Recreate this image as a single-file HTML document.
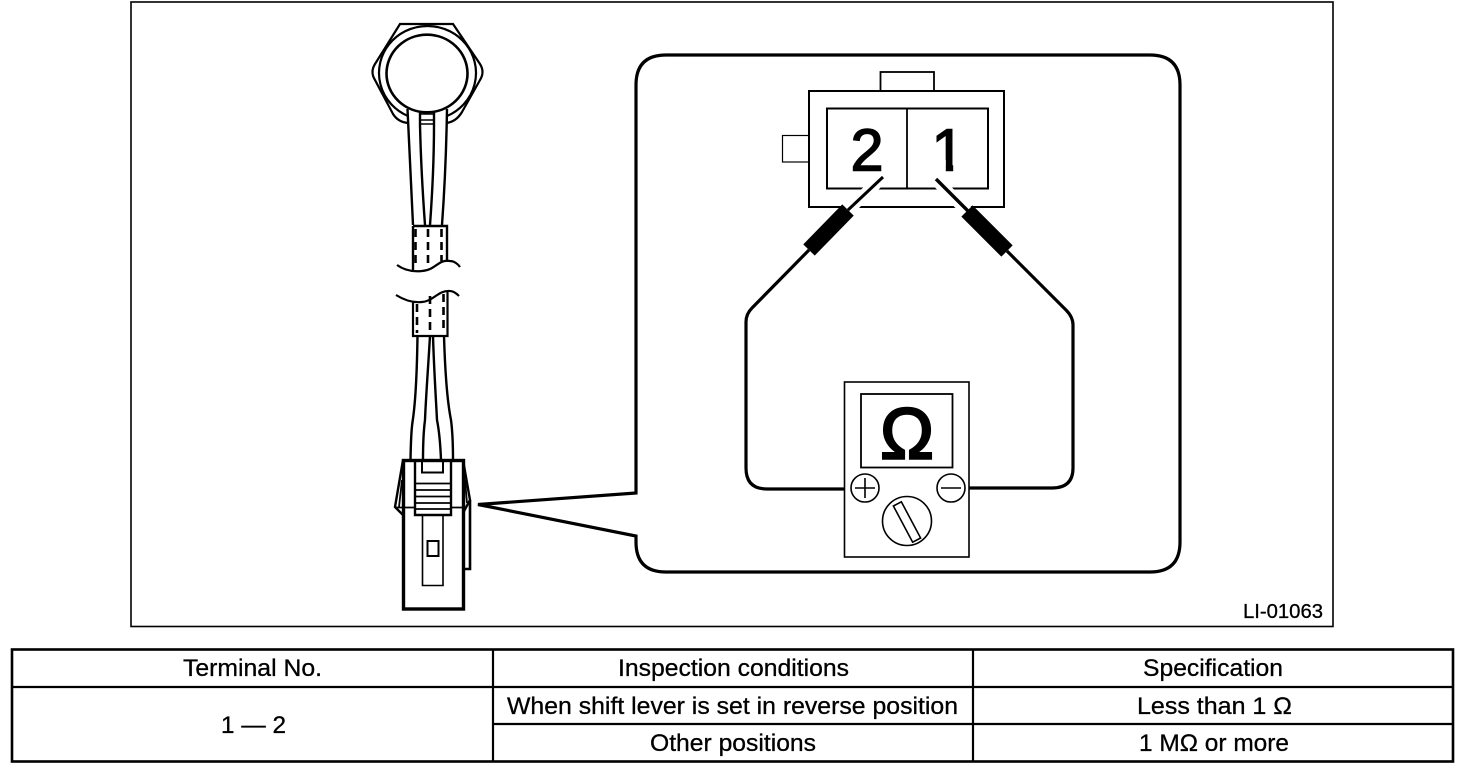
<!DOCTYPE html>
<html><head><meta charset="utf-8"><style>
html,body{margin:0;padding:0;background:#fff}
svg{display:block}
text{font-family:"Liberation Sans",sans-serif;fill:#000}
.t text{stroke:#000;stroke-width:.3}
</style></head><body>
<svg width="1472" height="778" viewBox="0 0 1472 778" xmlns="http://www.w3.org/2000/svg">
<rect x="0" y="0" width="1472" height="778" fill="#fff"/>
<rect x="131" y="2" width="1202" height="624.5" fill="none" stroke="#000" stroke-width="1.6"/>

<!-- callout -->
<path d="M636 493 V85 Q636 55 666 55 H1150 Q1180 55 1180 85 V542 Q1180 572 1150 572 H666 Q636 572 636 542 V536 L478 504.5 Z" fill="#fff" stroke="#000" stroke-width="3.2"/>

<!-- switch head -->
<g fill="none" stroke="#000" stroke-width="2.2">
<path d="M408 123 Q398 122 393 114 L375 80 Q370 72 375 64 L400 24 H453 L480 64 Q485 72 480 80 L462 112 Q456 122 446 123"/>
<path d="M408 116 A48.5 47 0 1 1 447 116" stroke-width="2.2"/>
<ellipse cx="427" cy="73.5" rx="40.5" ry="38.8" stroke-width="2.6"/>
<path d="M407.5 109 Q409 140 413 225 M420 112 V125 Q421 170 425 225 M434 112 V125 Q434 170 430 225 M447 109 Q446 170 442 225" stroke-width="2.4"/>
<path d="M420 114 H434 M420 120 H434 M420 124 H434" stroke-width="1.4"/>
<!-- sleeves -->
<path d="M413 226 H447 V262 M413 226 V271" stroke-width="2.4"/>
<path d="M413 301 V336 H447.5 V292" stroke-width="2.2"/>
<path d="M397 265 C404 270 413 272 422 271 C436 270 438 259 450 261 C454 261 458 264 460 267" stroke-width="2.2"/>
<path d="M396 295 C404 300 413 303 422 302 C434 301 438 290 450 291 C454 291 457 294 459 296" stroke-width="2.2"/>
<path d="M415.5 229 V266 M428 229 V266 M441.5 229 V261 M417 304 V333 M430 296 V333 M443.5 294 V333" stroke-width="2.6" stroke-dasharray="8 5"/>
<path d="M417.5 336 C417 370 416 400 412.5 422 Q411 432 410.5 460 M430 336 C428 370 426 395 425 420 Q423 435 423 460 M433 336 C434 370 436 400 437 420 Q440 435 441 460 M444 336 C445 370 447 400 451 420 Q453 435 453 460" stroke-width="2.4"/>
</g>

<!-- plug -->
<g fill="none" stroke="#000">
<path d="M403 460 L395 507 L403 515" stroke-width="2.4"/>
<path d="M463 460 L470 500 L463 513" stroke-width="2.4"/>
<path d="M470 500 V569 H463" stroke-width="2.6"/>
<path d="M395.5 507.5 H415 M451 507.5 H465 M402 480 L399 507 M465 480 L467 503" stroke-width="1.8"/>
<rect x="403.5" y="460.5" width="60" height="148.5" stroke-width="3.4" fill="none"/>
<path d="M415 460 V515 H451 V460" stroke-width="2.4"/>
<path d="M422 460 V472.5 H443 V460" stroke-width="2"/>
<path d="M415 483.5 H451 M415 490 H451 M415 496.5 H451 M415 503 H451 M415 509 H451" stroke-width="1.8"/>
<path d="M422.5 515 V585.5 H443 V515" stroke-width="1.6"/>
<rect x="427.5" y="541" width="11" height="15" stroke-width="2"/>
</g>

<!-- connector -->
<g fill="none" stroke="#000">
<rect x="880.5" y="72" width="53.5" height="19" stroke-width="1.8"/>
<rect x="782.5" y="135.5" width="26.5" height="26.5" stroke-width="1.2"/>
<rect x="809" y="91" width="195" height="116" stroke-width="2" fill="#fff"/>
<rect x="827" y="108.5" width="161" height="80" stroke-width="2"/>
<path d="M907 108 V188" stroke-width="1.8"/>
</g>
<text x="867" y="170.5" font-size="59" text-anchor="middle" stroke="#000" stroke-width="1.6">2</text>
<text x="948" y="170.5" font-size="59" text-anchor="middle" stroke="#000" stroke-width="1.6">1</text>
<rect x="928" y="160" width="17.8" height="13" fill="#fff"/>
<rect x="953.2" y="160" width="16" height="13" fill="#fff"/>

<!-- probes -->
<g fill="none" stroke-linecap="butt">
<path d="M882 178 L846 212" stroke="#fff" stroke-width="12"/>
<path d="M936 180 L970 214" stroke="#fff" stroke-width="12"/>
<path d="M883 177 L848 210" stroke="#000" stroke-width="3"/>
<path d="M936 179 L968 211" stroke="#000" stroke-width="3.4"/>
<path d="M848 210 L809 250" stroke="#000" stroke-width="16"/>
<path d="M967 211 L1007 251" stroke="#000" stroke-width="16"/>
<path d="M809 250 L752 308 Q746 314 746 322 V468 Q746 489 767 489 H851" stroke="#000" stroke-width="3.2"/>
<path d="M1007 251 L1066 310 Q1073 317 1073 325 V468 Q1073 488 1052 488 H965" stroke="#000" stroke-width="3.2"/>
</g>

<!-- meter -->
<g stroke="#000" fill="#fff">
<rect x="844.5" y="382" width="124.5" height="175" stroke-width="1.6"/>
<rect x="861" y="394" width="91.5" height="73.5" stroke-width="1.8"/>
<circle cx="865" cy="488" r="14" stroke-width="1.6"/>
<circle cx="951" cy="488" r="14" stroke-width="1.6"/>
<path d="M855 488 H875 M865 478 V498 M941 488 H961" stroke-width="1.6" fill="none"/>
<circle cx="907" cy="521" r="24.5" stroke-width="1.6"/>
<rect x="902.5" y="501.5" width="9" height="41" transform="rotate(-28 907 522)" stroke-width="1.6"/>
</g>
<text x="907" y="458.5" font-size="72" text-anchor="middle" stroke="#000" stroke-width="2.4">Ω</text>

<g class="t">
<text x="1243" y="618" font-size="20" textLength="80" lengthAdjust="spacingAndGlyphs">LI-01063</text>
</g>

<!-- table -->
<g fill="none" stroke="#000">
<rect x="12" y="649.5" width="1441" height="112" stroke-width="2.6"/>
<path d="M12 687 H1453 M493 724 H1453 M493 649 V762 M973 649 V762" stroke-width="2.2"/>
</g>
<g font-size="24" class="t">
<text x="183" y="676" font-size="24" textLength="139" lengthAdjust="spacingAndGlyphs">Terminal No.</text>
<text x="221" y="733" font-size="24" textLength="65" lengthAdjust="spacingAndGlyphs">1 — 2</text>
<text x="618" y="676" font-size="24" textLength="231" lengthAdjust="spacingAndGlyphs">Inspection conditions</text>
<text x="507" y="714" font-size="24" textLength="451" lengthAdjust="spacingAndGlyphs">When shift lever is set in reverse position</text>
<text x="650" y="751" font-size="24" textLength="166" lengthAdjust="spacingAndGlyphs">Other positions</text>
<text x="1143" y="676" font-size="24" textLength="140" lengthAdjust="spacingAndGlyphs">Specification</text>
<text x="1137" y="714" font-size="24" textLength="155" lengthAdjust="spacingAndGlyphs">Less than 1 Ω</text>
<text x="1139" y="751" font-size="24" textLength="150" lengthAdjust="spacingAndGlyphs">1 MΩ or more</text>
</g>
</svg>
</body></html>
